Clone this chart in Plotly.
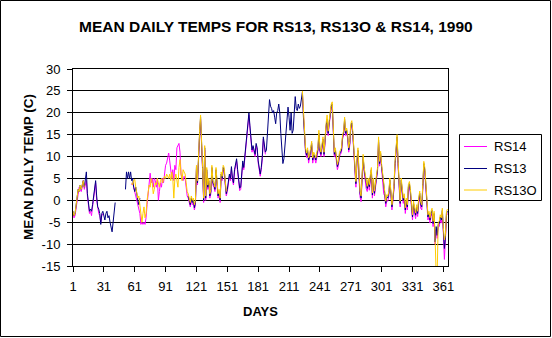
import plotly.graph_objects as go

days = list(range(1, 366))
x_tick_vals = [1, 31, 61, 91, 121, 151, 181, 211, 241, 271, 301, 331, 361]
y_tick_vals = [-15, -10, -5, 0, 5, 10, 15, 20, 25, 30]
y_tick_text = ["-15", "-10", "-5", "0", "5", "10", "15", "20", "25", "30"]
series_names = ["RS14", "RS13", "RS13O"]

rs13 = ([-2.5, -3.5, -3, -1.5, 0.5, 2.5, 2, 3.5, 2.5, 4, 4.5, 3]
        + [4.5, 6.5, 1.5, -1.5, -2.5, -2, -2.5, -1, 1, 3.5,
           4.5, 1, -1.5, -2, -3, -5.5, -3, -2.5, -3.5, -4.5,
           -3, -2.5, -4, -3.5, -5, -6, -7.2, -5, -2, -0.5]
        + [None] * 9
        + [2.5, 6.5, 5, 6.5, 5, 6.5, 4.5, 5, 3, 2, 3, 1, 0, -1, 0.5]
        + [None] * 46
        + [1, 0, -1, 0.5, -0.5, 0, -1.7, -0.5, 7.5, 4,
           11.5, 15, 19, 14, 7, 0, 12, 0.5, 7, 3,
           4.5, 1, 2, 7.5, 4, 3.5, 2.5, 7, 3, 1,
           2, 0, 6, 5, 7.5, 7, 4, 1.5, 2.5, 4,
           6, 5, 7.7, 5, 4, 7, 8, 9.5, 7, 4,
           2.8, 3, 7.5, 9, 7.5, 10, 11.5, 14, 16, 20,
           17, 13, 11.5, 12.5, 11, 10.5, 13, 12, 9, 7,
           6, 7.5, 10, 14.5, 13, 11, 11.5, 15.5, 17.3, 23,
           21.5, 21, 20, 20.5, 19, 17.5, 20, 20.5, 22, 20,
           15.3, 11.5, 8.4, 9.5, 12.3, 14.6, 17.6, 21.3, 19, 16,
           20, 15.3, 16, 20.5, 23.7, 21, 20.5, 22, 21, 21.5]
        + [23]
        + [24.7, 19, 14, 11.5, 10.3, 11.5, 9.2, 10, 11.5, 13,
           9.2, 10.5, 10, 9.2, 10.5, 11.5, 15.3, 11.5, 10.5, 12.3,
           14, 10.5, 14.5, 17, 18.5, 15.3, 17.7, 20, 21.5, 22,
           14.5, 10.5, 11.5, 9.2, 7.7, 8.5, 10.5, 11, 11.5, 14.5,
           15.3, 18.5, 15.3, 16, 14.5, 11.5, 13, 17, 17.7, 15.2,
           11.4, 6, 3.8, 9, 11.4, 6, 1.6, 0.5, 7.7, 10,
           7, 5.3, 3.4, 2.7, 4.6, 3.1, 5.3, 7, 1.2, 4.6,
           1.6, 4.2, 5.3, 7, 13.8, 8.4, 10.7, 7.7, 5.3, 2.3,
           1.6, -0.7, 0.8, 0.5, 1.6, 4.6, 2.3, -1.5, 0.5, 3.1,
           8.4, 13, 14.5, 8.4, 3.1, -0.7, 4.6, 2.3, 0, 1,
           -2.2, 0, -1.5, 3.1, 3.8, 2, -2.2, -3.8, -0.7, -2,
           -3.4, -1.5, -3, 0, 1.6, -1, -1.5, 3.1, 8.4, 6.9,
           3, -1.5, -3.8, -3, -4.5, -3, -2.3, -5.3, -3, -9.5,
           -6, -8, -5.5, -5.3, -3.8, -4.5, -2.3, -6.8, -11, -8.4,
           -3, -2.5])

rs14 = ([-3, -4, -3.5, -2, 0, 2, 3, 2.5, 2, 3,
         4.5, 2.5, 4, 4.5, 1, -2, -3, -2.5, -3.5, -1.5,
         0.5, 3, 4, 0, -2, -3, -3.5, -5, -3.5, -3]
        + [None] * 27
        + [3.5, 4, 3, 2, 1.5, 0, -1, -2, -3, -5.5,
           -5, -5.5, -5, -5.5, -4, -1, 2, 4, 6.2, 4,
           5, 3, 5, 4.5, 3, 5, 0, 2, 4, 3,
           5, 4, 6, 8, 8.5, 9.5, 10.8, 9, 7, 5,
           7, 4.5, 8, 7, 12, 12.5, 13, 11, 6, 5,
           4.5, 5.5, 5, 3, 1]
        + [0.5, -0.5, -1.5, 0, -1, -0.5, -2.2, -1, 7, 3.5,
           11, 14.5, 18.5, 13.5, 6.5, -0.5, 11.5, 0, 6.5, 2.5,
           4, 0.5, 1.5, 7, 3.5, 3, 2, 6.5, 2.5, 0.5,
           1.5, -0.5, 5.5, 4.5, 7, 6.5, 3.5, 1, 2, 3.5,
           5.5, 4.5, 7.2, 4.5, 3.5, 6.5, 7.5, 9, 6.5, 3.5,
           2.2, 2.5, 7, 8.5, 7, 9.5, 11, 13.5, 15.5, 19.5,
           16.5, 12.5, 11, 12, 10.5, 10, 12.5, 11.5, 8.5, 6.5,
           5.5, 7, 9.5, 14, 12.5, 10.5]
        + [None] * 35
        + [24.2, 18.5, 13.5, 11, 9.8, 11, 8.5, 9.5, 11, 12.5,
           8.5, 10, 9.5, 8.5, 10, 11, 14.8, 11, 10, 11.8,
           13.5, 10, 14, 16.5, 18, 14.8, 17.2, 19.5, 21, 21.5,
           14, 10, 11, 8.5, 7, 8, 10, 10.5, 11, 14,
           14.8, 18, 14.8, 15.5, 14, 11, 12.5, 16.5, 17.2, 14.7,
           10.5, 5, 3, 8.5, 10.5, 5, 0.8, -0.3, 7, 9.5,
           6.5, 4.5, 2.7, 2, 4, 2.3, 4.8, 6.5, 0.5, 4,
           1, 3.5, 4.8, 6.5, 13.3, 7.8, 10.2, 7.2, 4.8, 1.5,
           1, -1.5, 0, -0.2, 1, 4, 1.5, -2.2, 0, 2.5,
           7.8, 12.5, 14, 7.8, 2.5, -1.5, 4, 1.5, -0.7, 0.5,
           -3, -0.7, -2.2, 2.5, 3.2, 1.2, -3, -4.5, -1.5, -2.7,
           -4.2, -2.2, -3.7, -0.7, 1, -1.8, -2.2, 2.5, 7.8, 6.3,
           2.3, -2.2, -4.5, -3.7, -5.2, -3.7, -3, -6, -3.7, -10,
           -6.7, -8.7, -6.2, -6, -4.5, -5.2, -3, -7.5, -13.5, -9,
           -3.5, -3])

rs13o = ([-2.5, -3.5, -3, -1.5, 0.5, 2.5, 2, 3.5, 2.5, 4, 4.5, 3]
         + [None] * 45
         + [4, 3.5, 4.5, 4.8, 3, 2, 0.5, 1, -1, -2.5,
            -5, -3, -1.5, -4, -3, 0, 2, 3.5, 3, 5,
            4, 1.5, 2.5, 4, 3.5, 5, 4, 3, 4.5, 5,
            4, 5, 5.5, 5, 6, 5.5, 5, 6, 4.5, 6.5,
            5, 0.5, 5, 6, 4, 3, 7.5, 9.3, 6, 4.5,
            7, 6.5, 6, 4, 2]
         + [1.5, 0.5, -0.5, 1, 0, 0.5, -1, 0, 8, 4.5,
            12, 15.5, 19.5, 14.5, 7.5, 0.5, 12.5, 1, 7.5, 3.5,
            5, 1.5, 2.5, 8, 4.5, 4, 3, 7.5, 3.5, 1.5,
            2.5, 0.5, 6.5, 5.5, 8, 7.5, 4.5, 2]
         + [None] * 73
         + [25, 19.5, 14.5, 12, 10.8, 12, 9.7, 10.5, 12, 13.5,
            9.7, 11, 10.5, 9.7, 11, 12, 16, 12, 11, 12.8,
            14.5, 11, 15, 17.5, 19.5, 15.8, 18.2, 21, 22, 22.5,
            15, 11, 12, 9.7, 8.2, 9, 11, 11.5, 12, 15,
            15.8, 19, 15.8, 16.5, 15, 12, 13.5, 17.5, 18.2, 15.7,
            12, 6.5, 4.3, 9.5, 12, 6.5, 2.1, 1, 8.2, 10.5,
            7.5, 5.8, 3.9, 3.2, 5.1, 3.6, 5.8, 7.5, 1.7, 5.1,
            2.1, 4.7, 5.8, 7.5, 14.5, 8.9, 11.2, 8.2, 5.8, 2.8,
            2.1, -0.2, 1.3, 1, 2.1, 5.1, 2.8, -1, 1, 3.6,
            8.9, 13.5, 15, 8.9, 3.6, -0.2, 5.1, 2.8, 0.5, 1.5,
            -1.7, 0.5, -1, 3.6, 4.3, 2.5, -1.7, -3.3, -0.2, -1.5,
            -2.9, -1, -2.5, 0.5, 2.1, -0.5, -1, 3.6, 8.9, 7.4,
            3.5, -1, -3.3, -2.5, -4, -2.5, -1.8, -4.8, -2.5, -9,
            -17, -16.5, -5, -4.8, -3.3, -4, -1.8, -6.3, -9, -7.9,
            -2.5, -2])

assert len(rs13) == 365 and len(rs14) == 365 and len(rs13o) == 365, (len(rs13), len(rs14), len(rs13o))

colors = {"RS14": "#FF00FF", "RS13": "#000080", "RS13O": "#FFCC00"}
values = {"RS14": rs14, "RS13": rs13, "RS13O": rs13o}

# layout geometry (pixels)
W, H = 552, 338
PL, PR, PT, PB = 73, 448, 69, 266


def fx(px):
    return (px - PL) / (PR - PL)


def fy(py):
    return (PB - py) / (PB - PT)


fig = go.Figure()
for name in series_names:
    fig.add_trace(go.Scatter(x=days, y=values[name], mode="lines", name=name,
                             line=dict(color=colors[name], width=1),
                             connectgaps=False, showlegend=False,
                             hoverinfo="skip"))

font_family = "Liberation Sans, Arial, sans-serif"

fig.update_layout(
    width=W, height=H,
    margin=dict(l=PL, r=W - PR, t=PT, b=H - PB, pad=0),
    paper_bgcolor="white", plot_bgcolor="white",
    font=dict(family=font_family, color="black", size=13),
    showlegend=False,
    xaxis=dict(range=[1, 365.5], tickmode="array", tickvals=x_tick_vals,
               ticktext=[str(v) for v in x_tick_vals],
               showgrid=False, zeroline=False, showline=True, linecolor="black",
               linewidth=1, mirror=True, ticks="outside", ticklen=5,
               tickcolor="black", tickfont=dict(size=13), ticklabelstandoff=3),
    yaxis=dict(range=[-15, 30], tickmode="array", tickvals=y_tick_vals,
               ticktext=y_tick_text, showgrid=True, gridcolor="black",
               gridwidth=1, zeroline=False, showline=True, linecolor="black",
               linewidth=1, mirror=True, ticks="outside", ticklen=5,
               tickcolor="black", tickfont=dict(size=13), ticklabelstandoff=4),
)

annotations = [
    dict(text="<b>MEAN DAILY TEMPS FOR RS13, RS13O &amp; RS14, 1990</b>",
         x=fx(275.5), y=fy(26.5), font=dict(size=15.5)),
    dict(text="<b>DAYS</b>", x=fx(260.5), y=fy(311.5), font=dict(size=13)),
    dict(text="<b>MEAN DAILY TEMP (C)</b>", x=fx(28.5), y=fy(167.5),
         textangle=-90, font=dict(size=13.5)),
]
for a in annotations:
    a.update(xref="paper", yref="paper", showarrow=False,
             xanchor="center", yanchor="middle")

shapes = [
    # outer chart border
    dict(type="rect", x0=fx(0.5), x1=fx(550.5), y0=fy(0.5), y1=fy(336.5),
         line=dict(color="black", width=1)),
    # legend box
    dict(type="rect", x0=fx(459.5), x1=fx(541.5), y0=fy(134.5), y1=fy(200.5),
         line=dict(color="black", width=1), fillcolor="white"),
]
legend_rows = [146.5, 168.5, 190]
for name, ly in zip(series_names, legend_rows):
    shapes.append(dict(type="line", x0=fx(464), x1=fx(487), y0=fy(ly), y1=fy(ly),
                       line=dict(color=colors[name], width=1)))
    annotations.append(dict(text=name, x=fx(492), y=fy(ly), xref="paper",
                            yref="paper", showarrow=False, xanchor="left",
                            yanchor="middle", font=dict(size=13)))
for s in shapes:
    s.update(xref="paper", yref="paper", layer="above")

fig.update_layout(annotations=annotations, shapes=shapes)
fig.write_html("out.html")
